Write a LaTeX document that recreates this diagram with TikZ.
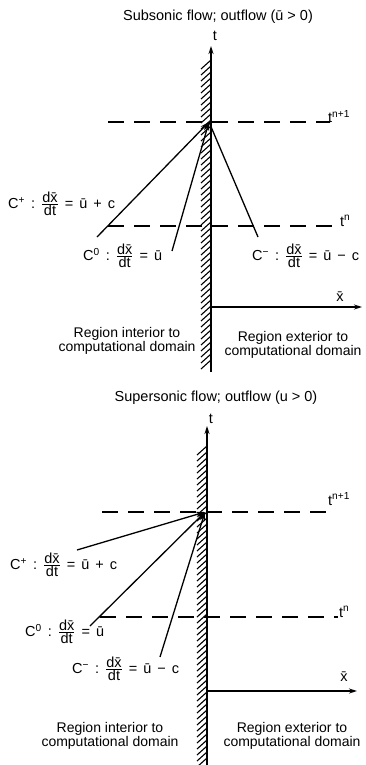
\documentclass[tikz,border=0pt]{standalone}
\usepackage{fontspec}
\setmainfont{Liberation Sans}
\usetikzlibrary{arrows.meta}
\newcommand{\fr}[2]{$\frac{\mbox{#1}}{\mbox{#2}}$}
\newcommand{\xb}{\={x}}
\newcommand{\gapx}{\hspace{6pt}}
\begin{document}
\begin{tikzpicture}[x=1pt,y=-1pt,
  font=\fontsize{14.5}{14.5}\selectfont,
  ln/.style={line width=1.3pt},
  chr/.style={line width=1.3pt,-{Stealth[length=9pt,width=5.5pt]}},
  dsh/.style={line width=1.3pt,dash pattern=on 16pt off 10pt},
  axis/.style={line width=1.3pt,-{Stealth[length=8pt,width=5pt]}},
  hatch/.style={line width=1.1pt},
  lbl/.style={inner sep=0pt},
  reg/.style={inner sep=0pt,align=center,font=\fontsize{14}{13.5}\selectfont}]
\useasboundingbox (0,0) rectangle (365,765);
% ---------------- top: subsonic ----------------
\node[lbl] (title1) at (218,17) {Subsonic flow; outflow (ū > 0)};
\coordinate (tb1) at (211,372);
\coordinate (tt1) at (211,46);
\coordinate (o1) at (211,307);
\coordinate (xe1) at (362,307);
\foreach \y in {60,66,...,360} \draw[hatch] (201,\y+9) -- (211,\y);
\draw[axis] (tb1) -- (tt1);
\node[lbl] (tl1) at (215,36) {t};
\draw[axis] (o1) -- (xe1);
\node[lbl] (xl1) at (340,297) {\xb};
\coordinate (a1) at (108,122);
\coordinate (b1) at (330,122);
\draw[dsh] (a1) -- (b1);
\node[lbl,anchor=base west] (tn1a) at (328,123) {t\textsuperscript{n+1}};
\coordinate (c1) at (108,226);
\coordinate (d1) at (340,226);
\draw[dsh] (c1) -- (d1);
\node[lbl,anchor=base west] (tn1b) at (340,226) {t\textsuperscript{n}};
\coordinate (P1) at (209,122);
\coordinate (cp1) at (97,237);
\coordinate (cz1) at (172,251);
\coordinate (cm1) at (258,237);
\draw[chr] (cp1) -- (P1);
\draw[chr] (cz1) -- (P1);
\draw[ln] (cm1) -- (P1);
\node[lbl,anchor=west] (lp1) at (8,204) {C\textsuperscript{+}\gapx:\gapx\fr{d\xb}{dt}\gapx=\gapx ū\gapx+\gapx c};
\node[lbl,anchor=west] (lz1) at (83,256) {C\textsuperscript{0}\gapx:\gapx\fr{d\xb}{dt}\gapx=\gapx ū};
\node[lbl,anchor=west] (lm1) at (252,256) {C\textsuperscript{−}\gapx:\gapx\fr{d\xb}{dt}\gapx=\gapx ū\gapx−\gapx c};
\node[reg] (ri1) at (127,341) {Region interior to\\computational domain};
\node[reg] (re1) at (293,345) {Region exterior to\\computational domain};
% ---------------- bottom: supersonic ----------------
\node[lbl] (title2) at (216,398) {Supersonic flow; outflow (u > 0)};
\coordinate (tb2) at (207,765);
\coordinate (tt2) at (207,426);
\coordinate (o2) at (207,691);
\coordinate (xe2) at (357,691);
\foreach \y in {446,452,...,758} \draw[hatch] (197,\y+9) -- (207,\y);
\draw[axis] (tb2) -- (tt2);
\node[lbl] (tl2) at (211,419) {t};
\draw[axis] (o2) -- (xe2);
\node[lbl] (xl2) at (344,677) {\xb};
\coordinate (a2) at (102,512);
\coordinate (b2) at (330,512);
\draw[dsh] (a2) -- (b2);
\node[lbl,anchor=base west] (tn2a) at (328,505) {t\textsuperscript{n+1}};
\coordinate (c2) at (100,617);
\coordinate (d2) at (338,617);
\draw[dsh] (c2) -- (d2);
\node[lbl,anchor=base west] (tn2b) at (339,617) {t\textsuperscript{n}};
\coordinate (P2) at (205,512);
\coordinate (cp2) at (77,550);
\coordinate (cz2) at (90,626);
\coordinate (cm2) at (160,657);
\draw[chr] (cp2) -- (P2);
\draw[chr] (cz2) -- (P2);
\draw[chr] (cm2) -- (P2);
\node[lbl,anchor=west] (lp2) at (10,565) {C\textsuperscript{+}\gapx:\gapx\fr{d\xb}{dt}\gapx=\gapx ū\gapx+\gapx c};
\node[lbl,anchor=west] (lz2) at (25,632) {C\textsuperscript{0}\gapx:\gapx\fr{d\xb}{dt}\gapx=\gapx ū};
\node[lbl,anchor=west] (lm2) at (72,669) {C\textsuperscript{−}\gapx:\gapx\fr{d\xb}{dt}\gapx=\gapx ū\gapx−\gapx c};
\node[reg] (ri2) at (110,736) {Region interior to\\computational domain};
\node[reg] (re2) at (292,736) {Region exterior to\\computational domain};
\end{tikzpicture}
\end{document}
